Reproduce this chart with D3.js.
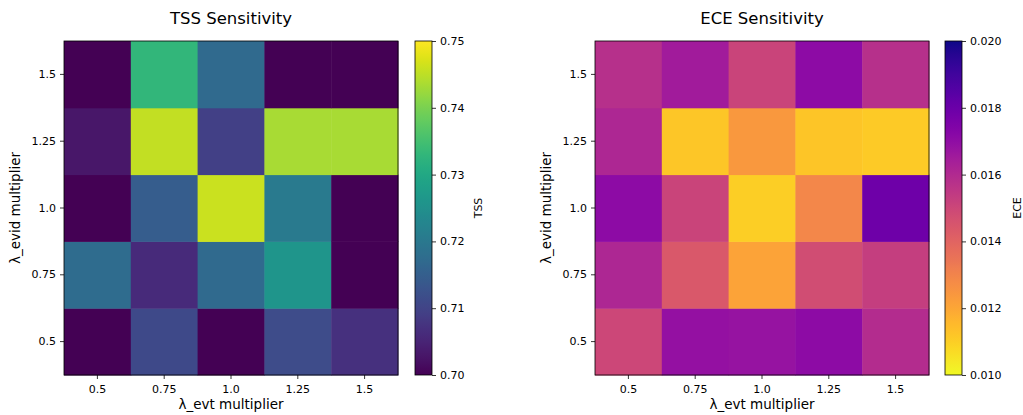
<!DOCTYPE html>
<html><head><meta charset="utf-8">
<script src="https://cdn.jsdelivr.net/npm/d3@7"></script>
<style>body{margin:0;background:#fff}svg{display:block}text{font-family:"DejaVu Sans",sans-serif;fill:#000}</style>
</head><body>
<svg id="c" width="1023" height="415"></svg>
<script>
const xCats = ["0.5","0.75","1.0","1.25","1.5"];
const yCats = ["0.5","0.75","1.0","1.25","1.5"];
// rows listed from y=0.5 (bottom) to y=1.5 (top); columns follow xCats
const tssValues = [
  [0.698, 0.711, 0.698, 0.7115, 0.707],
  [0.7175, 0.706, 0.717, 0.726, 0.698],
  [0.698, 0.7145, 0.746, 0.7205, 0.698],
  [0.703, 0.7455, 0.7095, 0.7435, 0.7435],
  [0.698, 0.733, 0.717, 0.698, 0.698]
];
const eceValues = [
  [0.0150, 0.0169, 0.0168, 0.0171, 0.0159],
  [0.0161, 0.0144, 0.0121, 0.0148, 0.0153],
  [0.0171, 0.0151, 0.0110, 0.0129, 0.0179],
  [0.0161, 0.0112, 0.0124, 0.01125, 0.0111],
  [0.0158, 0.0165, 0.0151, 0.0171, 0.0158]
];
const tssTicks = [0.70,0.71,0.72,0.73,0.74,0.75];
const eceTicks = [0.010,0.012,0.014,0.016,0.018,0.020];

const svg = d3.select("#c");

function panel(o){
  const g = svg.append("g");
  const x = d3.scaleBand().domain(xCats).range([o.left, o.left+334]);
  const y = d3.scaleBand().domain(yCats).range([o.top+334, o.top]);
  // colour position: 0..1 along the colormap; reversed maps flip it
  const c = d3.scaleLinear().domain(o.domain).range(o.reverse ? [1,0] : [0,1]).clamp(true);
  const color = v => o.interp(c(v));
  const cells = [];
  o.values.forEach((row,i)=>row.forEach((v,j)=>cells.push({x:xCats[j],y:yCats[i],v})));
  g.selectAll("rect.cell").data(cells).join("rect")
    .attr("x",d=>x(d.x)).attr("y",d=>y(d.y))
    .attr("width",x.bandwidth()+0.5).attr("height",y.bandwidth()+0.5)
    .attr("fill",d=>color(d.v));
  g.append("rect").attr("x",o.left).attr("y",o.top).attr("width",334).attr("height",334)
    .attr("fill","none").attr("stroke","#000").attr("stroke-width",0.8);
  const ax = g.append("g").attr("transform",`translate(0,${o.top+334})`)
    .call(d3.axisBottom(x).tickSizeOuter(0).tickSize(4).tickPadding(4));
  const ay = g.append("g").attr("transform",`translate(${o.left},0)`)
    .call(d3.axisLeft(y).tickSizeOuter(0).tickSize(4).tickPadding(4));
  [ax,ay].forEach(a=>{a.select(".domain").remove();
    a.selectAll("text").style("font-size","11px").attr("fill","#000");
    a.selectAll("line").attr("stroke","#000").attr("stroke-width",0.8);});
  ax.selectAll("text").attr("dy","0.95em");
  g.append("text").attr("x",o.left+167).attr("y",24).attr("text-anchor","middle")
    .style("font-size","16.5px").text(o.title);
  g.append("text").attr("x",o.left+167).attr("y",409).attr("text-anchor","middle")
    .style("font-size","13.5px").text("λ_evt multiplier");
  g.append("text").attr("transform",`translate(${o.ylabX},${o.top+167}) rotate(-90)`)
    .attr("text-anchor","middle").style("font-size","13.5px").text("λ_evid multiplier");
  // colorbar
  const cb = d3.scaleLinear().domain(o.domain).range([o.top+334, o.top]);
  const id = "grad"+o.title.slice(0,3);
  const grad = svg.append("defs").append("linearGradient").attr("id",id)
    .attr("x1",0).attr("y1",1).attr("x2",0).attr("y2",0);
  d3.range(0,1.0001,0.02).forEach(t=>grad.append("stop").attr("offset",t)
    .attr("stop-color",color(o.domain[0]+t*(o.domain[1]-o.domain[0]))));
  g.append("rect").attr("x",o.cbx).attr("y",o.top).attr("width",17).attr("height",334)
    .attr("fill",`url(#${id})`).attr("stroke","#000").attr("stroke-width",0.8);
  const ac = g.append("g").attr("transform",`translate(${o.cbx+17},0)`)
    .call(d3.axisRight(cb).tickValues(o.ticks).tickFormat(o.fmt).tickSize(4).tickPadding(4).tickSizeOuter(0));
  ac.select(".domain").remove();
  ac.selectAll("text").style("font-size","11px").attr("fill","#000");
  ac.selectAll("line").attr("stroke","#000").attr("stroke-width",0.8);
  g.append("text").attr("transform",`translate(${o.cblabX},${o.top+167}) rotate(-90)`)
    .attr("text-anchor","middle").style("font-size","11px").text(o.cblabel);
}

panel({left:64, top:41, values:tssValues, domain:[0.70,0.75], reverse:false, interp:d3.interpolateViridis,
  title:"TSS Sensitivity", ylabX:20, cbx:415, ticks:tssTicks, fmt:d3.format(".2f"), cblabel:"TSS", cblabX:482});
panel({left:595, top:41, values:eceValues, domain:[0.010,0.020], reverse:true, interp:d3.interpolatePlasma,
  title:"ECE Sensitivity", ylabX:551, cbx:945, ticks:eceTicks, fmt:d3.format(".3f"), cblabel:"ECE", cblabX:1021});
</script>
</body></html>
